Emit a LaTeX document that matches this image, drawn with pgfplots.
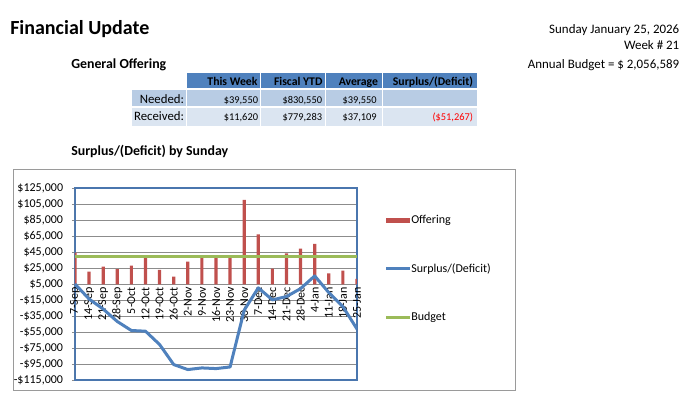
\documentclass[border=0pt]{standalone}
\usepackage{fontspec}
\setmainfont{Carlito}
\usepackage{pgfplots}
\pgfplotsset{compat=1.18}
\definecolor{hdr}{HTML}{4F81BD}
\definecolor{rowa}{HTML}{B8CCE4}
\definecolor{rowb}{HTML}{DBE5F1}
\definecolor{offred}{HTML}{C0504D}
\definecolor{lineblue}{HTML}{4F81BD}
\definecolor{budgreen}{HTML}{9BBB59}
\definecolor{gridgray}{HTML}{8C8C8C}
\definecolor{borderblue}{HTML}{4A76AE}
\definecolor{framegray}{HTML}{9A9A9A}
\begin{document}
\begin{tikzpicture}[x=0.75pt,y=-0.75pt]
\path[use as bounding box] (0,0) rectangle (694,398);
% header texts
\node[anchor=base west,inner sep=0pt,font=\fontsize{15}{18}\selectfont\bfseries] at (10,34.3) {Financial Update};
\node[anchor=base east,inner sep=0pt,font=\fontsize{9.7}{12}\selectfont] at (679.5,33.3) {Sunday January 25, 2026};
\node[anchor=base east,inner sep=0pt,font=\fontsize{9.7}{12}\selectfont] at (679.5,49.6) {Week \# 21};
\node[anchor=base east,inner sep=0pt,font=\fontsize{9.7}{12}\selectfont] at (679.5,68.3) {Annual Budget = \$ 2,056,589};
\node[anchor=base west,inner sep=0pt,font=\fontsize{10.4}{12}\selectfont\bfseries] at (71,68.3) {General Offering};
% table
\fill[hdr] (187,73.3) rectangle (260,88.5);
\fill[hdr] (261,73.3) rectangle (325,88.5);
\fill[hdr] (326,73.3) rectangle (381.5,88.5);
\fill[hdr] (382.5,73.3) rectangle (476.7,88.5);
\fill[rowa] (132,90.5) rectangle (186,106.2);
\fill[rowa] (187,90.5) rectangle (260,106.2);
\fill[rowa] (261,90.5) rectangle (325,106.2);
\fill[rowa] (326,90.5) rectangle (381.5,106.2);
\fill[rowa] (382.5,90.5) rectangle (476.7,106.2);
\fill[rowb] (132,107.7) rectangle (186,126);
\fill[rowb] (187,107.7) rectangle (260,126);
\fill[rowb] (261,107.7) rectangle (325,126);
\fill[rowb] (326,107.7) rectangle (381.5,126);
\fill[rowb] (382.5,107.7) rectangle (476.7,126);
\begin{scope}[every node/.style={anchor=base east,inner sep=0pt}]
\node[font=\fontsize{8.8}{10}\selectfont\bfseries] at (257.7,86) {This Week};
\node[font=\fontsize{8.8}{10}\selectfont\bfseries] at (322.7,86) {Fiscal YTD};
\node[font=\fontsize{8.8}{10}\selectfont\bfseries] at (378.3,86) {Average};
\node[font=\fontsize{8.8}{10}\selectfont\bfseries] at (473.3,86) {Surplus/(Deficit)};
\node[font=\fontsize{9.6}{11}\selectfont] at (184.3,103.3) {Needed:};
\node[font=\fontsize{9.6}{11}\selectfont] at (184.3,120.7) {Received:};
\node[font=\fontsize{7.8}{10}\selectfont] at (258.3,103.3) {\$39,550};
\node[font=\fontsize{7.8}{10}\selectfont] at (322.3,103.3) {\$830,550};
\node[font=\fontsize{7.8}{10}\selectfont] at (377,103.3) {\$39,550};
\node[font=\fontsize{7.8}{10}\selectfont] at (258.3,120.7) {\$11,620};
\node[font=\fontsize{7.8}{10}\selectfont] at (322.3,120.7) {\$779,283};
\node[font=\fontsize{7.8}{10}\selectfont] at (377,120.7) {\$37,109};
\node[font=\fontsize{7.8}{10}\selectfont,text=red] at (473.3,120.7) {(\$51,267)};
\end{scope}
\node[anchor=base west,inner sep=0pt,font=\fontsize{10.4}{12}\selectfont\bfseries] at (71,156) {Surplus/(Deficit) by Sunday};
% chart frame
\draw[framegray,line width=0.75pt] (13,170) rectangle (515,391);
% main axis: grid, y ticks, border
\begin{axis}[at={(56.25pt,-285pt)}, anchor=south west, scale only axis,
  width=211.5pt, height=144pt,
  xmin=0, xmax=20, ymin=-115000, ymax=125000,
  xmajorticks=false, scaled y ticks=false,
  ytick={-115000,-95000,-75000,-55000,-35000,-15000,5000,25000,45000,65000,85000,105000,125000},
  yticklabels={{-\$115,000},{-\$95,000},{-\$75,000},{-\$55,000},{-\$35,000},{-\$15,000},{\$5,000},{\$25,000},{\$45,000},{\$65,000},{\$85,000},{\$105,000},{\$125,000}},
  ytick pos=left, tick align=outside, major tick length=2.25pt,
  ytick style={gridgray, line width=0.6pt},
  yticklabel style={font=\fontsize{9}{10}\selectfont, anchor=east, inner sep=0pt, xshift=-6.5pt},
  ymajorgrids, major grid style={gridgray, line width=0.6pt},
  axis line style={borderblue, line width=1pt},
]
\addplot[draw=none] coordinates {(0,0)};
\draw[gridgray,line width=0.75pt] (rel axis cs:0,0) -- (rel axis cs:0,1);
\end{axis}
% bar axis (starts at the $5,000 line)
\begin{axis}[at={(56.25pt,-213.225pt)}, anchor=south west, scale only axis,
  width=211.5pt, height=72pt,
  xmin=0, xmax=20, ymin=5000, ymax=125000,
  axis line style={draw=none}, ymajorticks=false, scaled y ticks=false,
  xtick={0,1,...,20}, major tick length=0pt,
  xticklabels={7-Sep,14-Sep,21-Sep,28-Sep,5-Oct,12-Oct,19-Oct,26-Oct,2-Nov,9-Nov,16-Nov,23-Nov,30-Nov,7-Dec,14-Dec,21-Dec,28-Dec,4-Jan,11-Jan,18-Jan,25-Jan},
  xticklabel style={rotate=90, anchor=east, inner sep=2pt, font=\fontsize{9}{10}\selectfont},
  bar width=2.4pt,
]
\addplot[ybar, fill=offred, draw=none] coordinates {
(0,44500) (1,20800) (2,27000) (3,24000) (4,28300) (5,38700) (6,22900) (7,14500)
(8,33300) (9,41600) (10,38700) (11,41600) (12,110500) (13,67500) (14,24500)
(15,43700) (16,49500) (17,55400) (18,18700) (19,22000) (20,11620)};
\end{axis}
% line axis
\begin{axis}[at={(56.25pt,-285pt)}, anchor=south west, scale only axis,
  width=211.5pt, height=144pt,
  xmin=0, xmax=20, ymin=-115000, ymax=125000, hide axis]
\addplot[budgreen, line width=2.25pt] coordinates {
(0,39550) (1,39550) (2,39550) (3,39550) (4,39550) (5,39550) (6,39550) (7,39550)
(8,39550) (9,39550) (10,39550) (11,39550) (12,39550) (13,39550) (14,39550)
(15,39550) (16,39550) (17,39550) (18,39550) (19,39550) (20,39550)};
\addplot[lineblue, line width=2.25pt, line join=round] coordinates {
(0,4950) (1,-13800) (2,-26350) (3,-41900) (4,-53150) (5,-54000) (6,-70650)
(7,-95700) (8,-101950) (9,-99900) (10,-100750) (11,-98700) (12,-27750)
(13,200) (14,-14850) (15,-10700) (16,-750) (17,15100) (18,-5750) (19,-23300)
(20,-51267)};
\end{axis}
% legend
\fill[offred] (386,217.8) rectangle (410,223.3);
\node[anchor=west,inner sep=0pt,font=\fontsize{9}{10}\selectfont] at (411,220.5) {Offering};
\draw[lineblue,line width=2.25pt] (386,269) -- (410,269);
\node[anchor=west,inner sep=0pt,font=\fontsize{9}{10}\selectfont] at (411,269) {Surplus/(Deficit)};
\draw[budgreen,line width=2.25pt] (386,317.3) -- (410,317.3);
\node[anchor=west,inner sep=0pt,font=\fontsize{9}{10}\selectfont] at (411,317.3) {Budget};
\end{tikzpicture}
\end{document}
